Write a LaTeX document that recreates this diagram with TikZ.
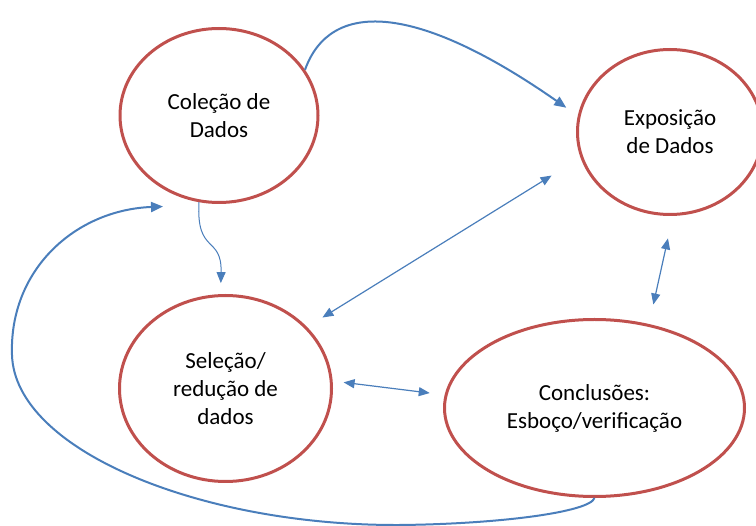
\documentclass[tikz,border=0pt]{standalone}
\usepackage{fontspec}
\setmainfont{Carlito}
\usetikzlibrary{shapes.geometric,arrows.meta}

\definecolor{vermelho}{RGB}{192,80,77}
\definecolor{azul}{RGB}{74,126,187}

\tikzset{
  etapa/.style={ellipse,draw=vermelho,line width=3pt,inner sep=0pt,align=center,
    font=\fontsize{23}{28}\selectfont},
  seta/.style={azul,line width=1pt,-{Triangle[length=11pt,width=9pt]}},
  setagrossa/.style={azul,line width=2pt,-{Triangle[length=12pt,width=10pt]}},
  setadupla/.style={azul,line width=1.2pt,{Triangle[length=11pt,width=9pt]}-{Triangle[length=11pt,width=9pt]}}
}

\begin{document}
\begin{tikzpicture}[x=1pt,y=-1pt]
    \useasboundingbox (0,0) rectangle (756,526);
    % etapas
    \node[etapa,minimum width=198pt,minimum height=174pt] (coleta) at (219,115.5) {Coleção de\\Dados};
    \node[etapa,minimum width=185pt,minimum height=165pt] (exposicao) at (670,132) {Exposição\\de Dados};
    \node[etapa,minimum width=212pt,minimum height=186pt] (selecao) at (225.5,388.5) {Seleção/\\redução de\\dados};
    \node[etapa,minimum width=300pt,minimum height=177pt] (conclusoes) at (594.5,408) {Conclusões:\\Esboço/verificação};
    \coordinate (retorno) at ([xshift=-56pt,yshift=-2.5pt]coleta.south);
    % ligacoes
    \draw[setagrossa,shorten >=14pt] (coleta.28) .. controls (330,0) and (415,2) .. (exposicao.170);
    \draw[seta,shorten >=11pt] (coleta.-103) .. controls (196,255) and (222,235) .. (selecao.93);
    \draw[setadupla,shorten <=34pt,shorten >=18pt] (exposicao.196) -- (selecao.37);
    \draw[setadupla,shorten <=11pt,shorten >=15pt] (selecao.4) -- (conclusoes.175);
    \draw[setadupla,shorten <=23pt,shorten >=20pt] (exposicao.-88) -- (conclusoes.57);
    \draw[setagrossa] (conclusoes.-90) .. controls (590,512) and (500,524) .. (400,525)
        .. controls (200,526) and (15,450) .. (12,355)
        .. controls (9,270) and (75,210) .. (retorno);
\end{tikzpicture}
\end{document}
